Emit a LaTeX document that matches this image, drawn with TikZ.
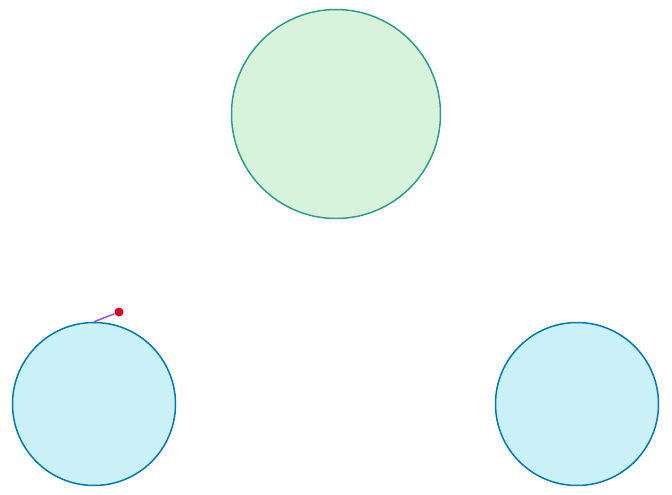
\documentclass[tikz,border=0pt]{standalone}
\usepackage{tikz}
\definecolor{mintfill}{HTML}{D8F3DC}
\definecolor{mintdraw}{HTML}{2A9D8F}
\definecolor{skyfill}{HTML}{CAF0F8}
\definecolor{skydraw}{HTML}{0077B6}
\definecolor{dotred}{HTML}{D90429}
\definecolor{linkviolet}{HTML}{9D4EDD}
\begin{document}
\begin{tikzpicture}[
    x=1pt, y=-1pt,
    % 大圆样式
    bigball/.style={
        circle,
        line width=1.5pt,
        draw=mintdraw,
        fill=mintfill,
        inner sep=0pt,
        minimum size=209pt
        },
    % 小圆样式
    smallball/.style={
        circle,
        line width=1.5pt,
        draw=skydraw,
        fill=skyfill,
        inner sep=0pt,
        minimum size=163pt
        },
    % 红点样式
    reddot/.style={
        circle,
        fill=dotred,
        inner sep=0pt,
        minimum size=9pt
        },
    % 连线样式
    linkline/.style={line width=1.5pt, draw=linkviolet}
    ]
    \useasboundingbox (0,0) rectangle (672,495);
    % ========== 圆形节点 ==========
    \node [bigball] (top) at (336, 114) {};
    \foreach \name/\x in {left/94, right/577} {
        \node [smallball] (\name) at (\x, 404) {};
    }
    % ========== 红点与连线 ==========
    \node [reddot] (dot) at (119, 312) {};
    \draw [linkline] (left.north) -- (dot);
\end{tikzpicture}
\end{document}
